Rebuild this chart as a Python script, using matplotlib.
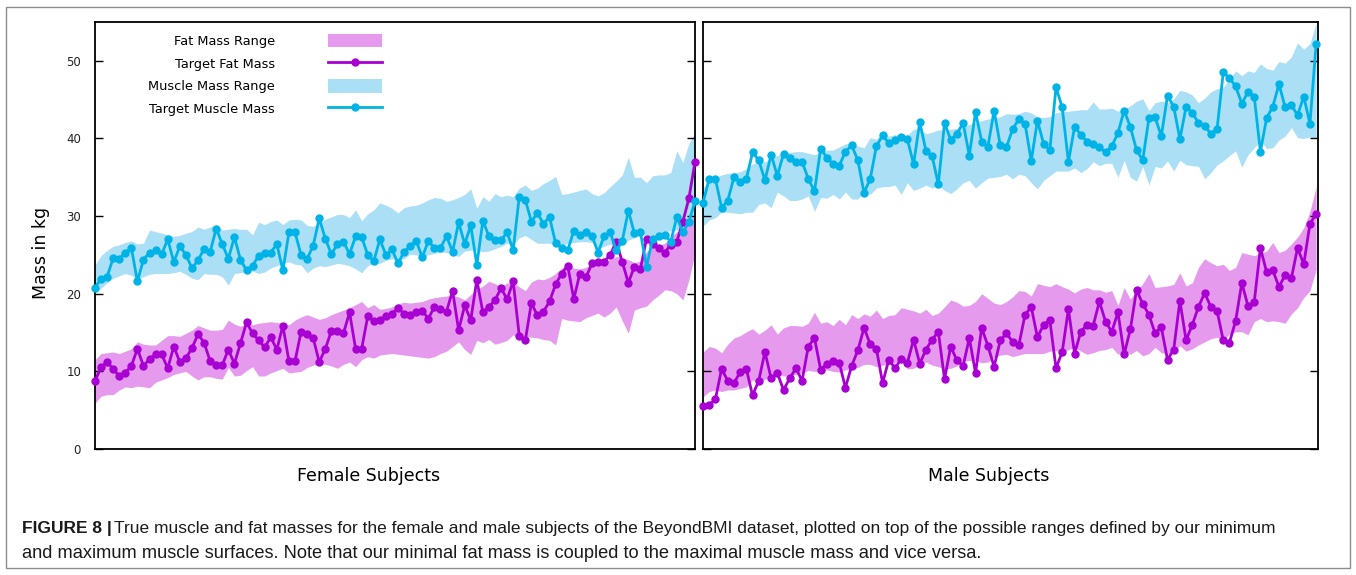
import numpy as np
import matplotlib
matplotlib.use("Agg")
import matplotlib.pyplot as plt
from matplotlib.patches import Patch, Rectangle
from matplotlib.lines import Line2D

# ---------------- data ----------------
subjects = np.arange(1, 101)

female_muscle = [
    20.8, 21.9, 22.2, 24.6, 24.5, 25.3, 25.9, 21.6, 24.4, 25.3, 25.6, 25.1, 27.0, 24.1, 26.1, 25.0, 23.3,
    24.3, 25.8, 25.4, 28.4, 26.4, 24.5, 27.3, 24.4, 23.0, 23.6, 24.9, 25.3, 25.3, 26.4, 23.0, 27.9,
    27.9, 25.0, 24.5, 26.2, 29.7, 27.1, 25.1, 26.4, 26.7, 25.1, 27.4, 27.3, 25.0, 24.2, 27.0, 25.0,
    25.7, 23.9, 25.4, 26.1, 26.8, 24.7, 26.8, 25.9, 25.9, 27.4, 25.4, 29.2, 26.4, 28.8, 23.7, 29.4,
    27.4, 26.9, 26.9, 27.9, 25.6, 32.5, 32.1, 29.3, 30.4, 29.0, 29.9, 26.5, 25.9, 25.6, 28.1, 27.6,
    27.9, 27.5, 25.3, 27.4, 27.9, 25.6, 26.8, 30.7, 27.8, 27.9, 23.5, 27.0, 27.5, 27.6, 26.7, 29.9,
    27.9, 29.3, 31.9]
female_fat = [
    8.8, 10.5, 11.2, 10.3, 9.4, 9.8, 10.7, 12.9, 10.7, 11.6, 12.2, 12.2, 10.4, 13.2, 11.2, 11.7, 13.0,
    14.8, 13.7, 11.3, 10.8, 10.8, 12.8, 11.0, 13.6, 16.3, 14.9, 14.0, 13.1, 14.4, 12.8, 15.9, 11.3,
    11.3, 15.1, 14.8, 14.3, 11.2, 12.9, 15.2, 15.2, 14.9, 17.6, 12.9, 12.9, 17.1, 16.5, 16.6, 17.1,
    17.4, 18.2, 17.4, 17.3, 17.7, 17.8, 16.8, 18.3, 18.0, 17.7, 20.4, 15.3, 18.5, 16.6, 21.8, 17.6,
    18.3, 19.2, 20.7, 19.3, 21.6, 14.6, 14.0, 18.8, 17.2, 17.7, 19.0, 21.2, 22.6, 23.6, 19.3, 22.6,
    22.1, 23.9, 24.1, 24.1, 25.0, 26.7, 24.1, 21.4, 23.5, 23.2, 27.1, 26.4, 25.9, 25.3, 26.3, 26.7,
    29.3, 32.3, 37.0]
female_muscle_hi = [
    23.7, 24.9, 25.6, 26.1, 26.3, 26.6, 26.8, 26.4, 26.5, 28.2, 28.0, 27.8, 27.6, 27.4, 27.5, 27.8, 28.0,
    28.6, 28.3, 28.6, 28.9, 28.2, 28.3, 28.4, 28.3, 28.3, 27.6, 29.2, 28.9, 29.3, 29.5, 28.9, 29.5,
    29.6, 29.5, 28.8, 28.7, 29.0, 29.6, 29.9, 30.2, 30.2, 29.8, 30.8, 29.4, 30.3, 30.8, 31.7, 31.4,
    31.0, 30.4, 31.1, 31.3, 31.4, 31.7, 32.1, 32.4, 32.3, 31.9, 32.1, 32.4, 32.8, 33.5, 31.0, 32.5,
    31.9, 32.9, 32.5, 32.7, 32.5, 33.6, 34.0, 33.3, 33.6, 34.2, 34.6, 35.1, 32.8, 32.9, 33.1, 33.3,
    33.5, 32.9, 32.6, 33.0, 33.8, 34.5, 35.3, 37.6, 35.0, 35.0, 34.3, 35.2, 35.3, 35.3, 35.6, 38.4,
    36.9, 39.4, 40.7]
female_muscle_lo = [
    20.1, 20.7, 21.4, 22.0, 22.3, 22.6, 22.4, 21.8, 22.2, 22.5, 22.6, 22.6, 22.6, 22.7, 22.9, 22.5, 22.0,
    21.8, 22.6, 22.5, 22.5, 22.2, 21.1, 22.6, 22.7, 22.9, 22.9, 22.6, 22.8, 23.3, 23.6, 23.9, 24.1,
    23.8, 23.7, 22.7, 23.3, 23.6, 23.5, 23.7, 23.9, 23.8, 23.6, 23.2, 22.7, 23.6, 23.9, 23.9, 24.3,
    24.5, 24.4, 24.5, 25.1, 25.0, 24.8, 25.0, 25.2, 25.4, 25.3, 25.1, 24.8, 25.5, 25.6, 25.6, 25.4,
    25.5, 25.8, 26.1, 26.5, 26.3, 27.2, 27.5, 27.0, 26.5, 26.5, 26.5, 26.3, 26.2, 26.5, 26.6, 26.7,
    26.7, 26.6, 25.8, 26.1, 26.4, 25.7, 26.3, 26.9, 27.2, 27.5, 27.6, 27.4, 27.7, 28.0, 28.1, 28.2,
    28.4, 29.0, 30.4]
female_fat_hi = [
    11.5, 12.3, 12.4, 12.5, 12.3, 12.6, 12.9, 13.8, 13.5, 13.4, 13.4, 14.0, 14.6, 14.6, 14.5, 14.9, 15.3,
    15.9, 15.6, 15.3, 15.3, 15.4, 16.6, 16.1, 15.8, 16.2, 16.0, 16.2, 16.3, 16.4, 16.3, 16.2, 16.0,
    16.6, 17.0, 17.3, 17.0, 16.7, 16.9, 17.3, 17.6, 17.9, 18.2, 18.6, 19.0, 18.2, 18.6, 18.0, 18.1,
    18.3, 18.7, 18.9, 18.8, 18.9, 19.0, 19.3, 19.5, 19.6, 19.7, 19.8, 19.6, 19.2, 19.9, 20.6, 21.0,
    21.6, 21.3, 20.9, 21.4, 21.4, 20.9, 20.4, 21.5, 21.9, 21.8, 22.1, 22.6, 23.3, 23.8, 23.3, 23.2,
    23.4, 23.8, 24.1, 24.1, 24.4, 24.8, 24.6, 24.4, 24.0, 24.2, 25.4, 26.0, 26.2, 26.5, 27.3, 28.0,
    28.4, 29.2, 30.8]
female_fat_lo = [
    5.9, 6.8, 7.0, 7.0, 7.6, 8.0, 7.9, 8.1, 8.0, 7.9, 8.6, 8.9, 9.2, 9.6, 9.8, 10.0, 9.4,
    8.9, 9.3, 9.3, 9.1, 9.0, 10.5, 9.4, 9.5, 10.1, 10.6, 9.4, 9.4, 9.8, 10.1, 10.4, 9.8,
    9.9, 10.0, 10.5, 10.8, 11.0, 10.9, 10.7, 10.4, 10.9, 11.2, 10.6, 11.5, 11.9, 11.7, 12.1, 12.2,
    12.3, 12.2, 12.1, 12.0, 11.9, 11.8, 11.7, 11.9, 12.3, 12.6, 13.2, 13.8, 12.8, 12.2, 14.0, 13.7,
    14.1, 13.5, 13.7, 14.0, 14.7, 14.3, 14.5, 14.4, 14.3, 14.1, 14.0, 13.4, 16.8, 16.6, 16.5, 16.4,
    16.9, 17.2, 17.5, 17.0, 17.5, 18.3, 16.5, 14.9, 17.9, 18.2, 18.4, 19.2, 19.8, 20.5, 20.4, 20.0,
    19.2, 21.8, 25.2]

male_muscle = [
    31.7, 34.8, 34.8, 31.1, 32.0, 35.0, 34.4, 34.8, 38.2, 37.2, 34.6, 37.9, 35.2, 38.0, 37.5, 37.0, 37.0,
    34.8, 33.2, 38.7, 37.5, 36.7, 36.5, 38.3, 39.1, 37.2, 33.0, 34.8, 39.0, 40.4, 39.4, 39.8, 40.2,
    39.9, 36.7, 42.1, 38.4, 37.7, 34.1, 42.0, 39.8, 40.6, 42.0, 37.8, 43.4, 39.6, 38.9, 43.6, 39.1,
    38.9, 41.2, 42.5, 41.9, 37.1, 42.3, 39.3, 38.5, 46.6, 44.0, 37.0, 41.5, 40.5, 39.6, 39.3, 38.9,
    38.2, 39.0, 40.7, 43.6, 41.5, 38.5, 37.2, 42.6, 42.7, 40.3, 45.5, 44.1, 39.9, 44.1, 43.3, 42.0,
    41.6, 40.6, 41.2, 48.5, 47.8, 46.7, 44.5, 46.0, 45.4, 38.3, 42.6, 44.1, 47.0, 44.0, 44.3, 43.0,
    45.4, 41.9, 52.2]
male_fat = [
    5.6, 5.7, 6.4, 10.3, 8.8, 8.5, 9.9, 10.3, 6.9, 8.8, 12.5, 9.1, 9.8, 7.6, 9.1, 10.4, 8.8,
    13.2, 14.3, 10.2, 11.0, 11.3, 11.1, 7.9, 10.7, 12.7, 15.6, 13.5, 12.9, 8.5, 11.5, 10.4, 11.6,
    11.1, 14.1, 11.0, 12.8, 14.1, 15.1, 9.0, 13.2, 11.4, 10.7, 14.3, 9.8, 15.6, 13.3, 10.6, 14.0,
    14.9, 13.8, 13.4, 17.3, 18.3, 14.4, 16.0, 16.6, 10.4, 12.5, 18.0, 12.3, 15.1, 16.0, 15.9, 19.0,
    16.4, 15.1, 17.6, 12.2, 15.4, 20.5, 18.7, 17.3, 14.9, 15.7, 11.5, 12.8, 19.1, 14.0, 16.0, 18.3,
    20.1, 18.3, 17.8, 14.0, 13.7, 16.5, 21.4, 18.4, 18.9, 25.9, 22.8, 23.0, 20.9, 22.4, 22.0, 25.9,
    23.8, 29.0, 30.3]
male_muscle_hi = [
    33.6, 34.6, 34.9, 35.3, 35.5, 35.6, 35.7, 36.1, 36.7, 37.0, 37.0, 37.4, 37.8, 38.0, 38.2, 38.3, 38.3,
    38.1, 37.9, 38.2, 38.5, 38.5, 38.9, 39.3, 39.4, 39.0, 38.8, 40.1, 39.9, 40.6, 40.3, 40.5, 40.4,
    40.4, 41.2, 41.2, 40.6, 40.8, 41.1, 41.1, 41.2, 41.3, 41.5, 41.8, 42.0, 42.3, 42.5, 42.6, 42.8,
    43.2, 43.1, 43.2, 43.5, 43.3, 42.8, 42.7, 42.8, 43.3, 43.5, 43.5, 43.6, 43.7, 43.7, 44.7, 43.8,
    43.8, 43.9, 43.5, 43.8, 44.2, 44.8, 45.1, 43.6, 44.6, 44.8, 44.6, 45.1, 46.2, 46.0, 45.6, 44.6,
    45.2, 46.0, 46.4, 46.6, 47.6, 48.7, 48.1, 48.7, 48.5, 49.6, 49.0, 48.8, 49.9, 49.7, 50.5, 52.3,
    51.5, 52.2, 54.9]
male_muscle_lo = [
    28.7, 29.5, 29.8, 30.5, 30.5, 30.4, 30.3, 30.5, 30.5, 31.5, 31.7, 31.1, 33.1, 32.6, 32.0, 32.0, 32.2,
    32.6, 30.6, 32.4, 32.3, 32.8, 32.2, 33.1, 32.2, 32.2, 33.1, 32.8, 33.6, 33.8, 33.8, 34.0, 32.8,
    34.3, 33.3, 33.6, 34.0, 33.6, 34.0, 33.3, 32.9, 33.5, 34.3, 34.6, 33.6, 34.3, 34.9, 35.0, 35.1,
    35.4, 34.8, 35.4, 35.2, 34.3, 33.5, 34.6, 35.2, 35.8, 35.8, 35.8, 36.2, 35.6, 36.1, 37.0, 36.5,
    36.8, 36.8, 35.0, 37.2, 35.0, 34.5, 36.4, 34.0, 36.4, 36.2, 37.1, 35.8, 37.2, 36.6, 36.5, 36.4,
    34.8, 35.6, 36.6, 37.1, 37.8, 38.4, 36.3, 37.9, 38.8, 39.7, 38.7, 38.8, 39.8, 40.3, 41.4, 40.1,
    40.0, 40.2, 40.0]
male_fat_hi = [
    12.5, 13.2, 13.0, 12.4, 13.5, 14.3, 14.6, 15.1, 15.5, 14.8, 15.3, 16.0, 14.8, 15.6, 15.9, 15.9, 15.8,
    16.2, 17.6, 16.2, 16.4, 15.9, 16.7, 16.0, 17.3, 16.8, 17.4, 17.1, 17.9, 16.8, 17.2, 17.3, 18.2,
    18.0, 17.8, 17.5, 18.0, 17.2, 17.5, 18.3, 19.2, 18.9, 18.4, 18.5, 19.0, 20.0, 19.4, 18.8, 18.6,
    19.0, 19.6, 20.4, 20.3, 19.7, 21.3, 21.1, 20.9, 21.3, 20.9, 20.6, 20.1, 20.6, 20.8, 20.5, 20.5,
    20.2, 20.4, 18.5, 20.8, 19.3, 20.4, 21.3, 22.6, 20.8, 20.9, 21.0, 21.2, 22.7, 21.0, 21.4, 23.4,
    24.5, 24.0, 23.6, 23.8, 23.0, 23.4, 25.3, 25.1, 24.9, 25.2, 25.5, 26.6, 25.3, 25.6, 26.4, 27.3,
    28.5, 30.6, 33.8]
male_fat_lo = [
    6.7, 7.4, 7.6, 7.4, 7.6, 7.6, 7.8, 8.0, 8.9, 8.5, 9.0, 9.3, 9.7, 9.4, 9.4, 9.6, 9.8,
    10.1, 10.0, 10.0, 10.2, 10.0, 9.9, 10.2, 10.3, 10.5, 10.9, 10.9, 10.6, 10.8, 10.9, 11.1, 11.5,
    10.3, 10.4, 10.8, 11.2, 10.8, 10.6, 10.3, 10.4, 10.7, 11.3, 11.4, 11.4, 11.1, 11.2, 11.8, 12.1,
    12.2, 11.9, 12.1, 12.3, 12.3, 12.3, 12.3, 12.6, 12.7, 12.4, 12.8, 13.1, 12.6, 12.2, 12.4, 12.7,
    12.8, 13.1, 12.2, 12.7, 12.2, 12.7, 12.0, 12.3, 13.1, 12.4, 12.2, 12.6, 13.3, 12.6, 12.9, 13.4,
    13.8, 14.2, 14.4, 14.0, 14.8, 15.1, 15.1, 14.7, 16.4, 16.8, 16.4, 16.5, 16.4, 16.2, 17.4, 18.2,
    19.5, 20.4, 23.1]

y_ticks = [0, 10, 20, 30, 40, 50]
legend_labels = ["Fat Mass Range", "Target Fat Mass", "Muscle Mass Range", "Target Muscle Mass"]
panel_titles = ["Female Subjects", "Male Subjects"]
caption_bold = "FIGURE 8 |"
caption_line1 = ("True muscle and fat masses for the female and male subjects of the BeyondBMI dataset, "
                 "plotted on top of the possible ranges defined by our minimum")
caption_line2 = ("and maximum muscle surfaces. Note that our minimal fat mass is coupled to the maximal "
                 "muscle mass and vice versa.")

# ---------------- style ----------------
C_FAT_RANGE = "#E69AEE"
C_FAT = "#A800D2"
C_MUS_RANGE = "#AADFF5"
C_MUS = "#00B3E6"

W, H = 1356, 575
fig = plt.figure(figsize=(W / 100, H / 100), dpi=100)


def rect(x0, x1, y0, y1):
    return [x0 / W, 1 - y1 / H, (x1 - x0) / W, (y1 - y0) / H]


axF = fig.add_axes(rect(95, 695, 22, 449))
axM = fig.add_axes(rect(703, 1318, 22, 449))

panels = [
    (axF, female_fat_lo, female_fat_hi, female_muscle_lo, female_muscle_hi, female_fat, female_muscle),
    (axM, male_fat_lo, male_fat_hi, male_muscle_lo, male_muscle_hi, male_fat, male_muscle),
]
for ax, flo, fhi, mlo, mhi, fat, mus in panels:
    ax.fill_between(subjects, flo, fhi, color=C_FAT_RANGE, lw=0, zorder=1)
    ax.fill_between(subjects, mlo, mhi, color=C_MUS_RANGE, lw=0, zorder=1.1)
    ax.plot(subjects, fat, color=C_FAT, lw=2.0, marker="o", ms=5, clip_on=False, zorder=3)
    ax.plot(subjects, mus, color=C_MUS, lw=2.0, marker="o", ms=5, clip_on=False, zorder=4)
    ax.set_ylim(0, 55)
    ax.set_xticks([])
    ax.set_yticks(y_ticks)
    ax.tick_params(axis="y", direction="in", length=6, width=1.0, left=True, right=True,
                   labelsize=8.5, pad=10, colors="black", labelcolor="#222222")
    for s in ax.spines.values():
        s.set_linewidth(1.3)
        s.set_color("black")

axF.set_xlim(1, 100)
axM.set_xlim(1, 100.3)
axM.tick_params(labelleft=False)

axF.set_ylabel("Mass in kg", fontsize=12.5)
axF.yaxis.set_label_coords(-(95 - 50) / 600, (449 - 253) / 427)

for ax, title, cx, x0, w in [(axF, panel_titles[0], 369, 95, 600), (axM, panel_titles[1], 989, 703, 615)]:
    ax.set_xlabel(title, fontsize=12.5)
    ax.xaxis.set_label_coords((cx - x0) / w, -(476 - 449) / 427)
    ax.xaxis.label.set_va("center")

handles = [
    Patch(facecolor=C_FAT_RANGE, edgecolor="none"),
    Line2D([], [], color=C_FAT, lw=2.0, marker="o", ms=5),
    Patch(facecolor=C_MUS_RANGE, edgecolor="none"),
    Line2D([], [], color=C_MUS, lw=2.0, marker="o", ms=5),
]
axF.legend(handles, legend_labels, loc="upper right", bbox_to_anchor=(382 / W, 1 - 34 / H),
           bbox_transform=fig.transFigure, frameon=False, markerfirst=False, fontsize=9.3,
           handlelength=4.2, handletextpad=4.1, handleheight=1.2, labelspacing=0.67,
           borderpad=0, borderaxespad=0)

# outer frame
fig.add_artist(Rectangle((6 / W, 1 - 568 / H), (1350 - 6) / W, (568 - 7) / H,
                         transform=fig.transFigure, fill=False, edgecolor="#8c8c8c", lw=1.0))

# caption (second line at natural width, first line fitted to its justified width)
cap_family = ["Liberation Sans", "DejaVu Sans"]
renderer = fig.canvas.get_renderer()
fs2 = 12
t_line2 = fig.text(22 / W, 1 - 554 / H, caption_line2, fontsize=fs2, family=cap_family,
                   va="center", ha="left", color="#1a1a1a")
fs2 = fs2 * 961.0 / t_line2.get_window_extent(renderer).width
t_line2.set_fontsize(fs2)

t_bold = fig.text(22 / W, 1 - 529 / H, caption_bold, fontsize=fs2, family=cap_family,
                  weight="bold", va="center", ha="left", color="#1a1a1a")
t_rest = fig.text(0, 1 - 529 / H, caption_line1, fontsize=fs2, family=cap_family,
                  va="center", ha="left", color="#1a1a1a")
gap = 2
total = (t_bold.get_window_extent(renderer).width + gap
         + t_rest.get_window_extent(renderer).width)
fs1 = fs2 * 1253.0 / total
t_bold.set_fontsize(fs1)
t_rest.set_fontsize(fs1)
bb = t_bold.get_window_extent(renderer)
t_rest.set_x((bb.x1 + gap) / W)

fig.savefig("out.png", dpi=100)
